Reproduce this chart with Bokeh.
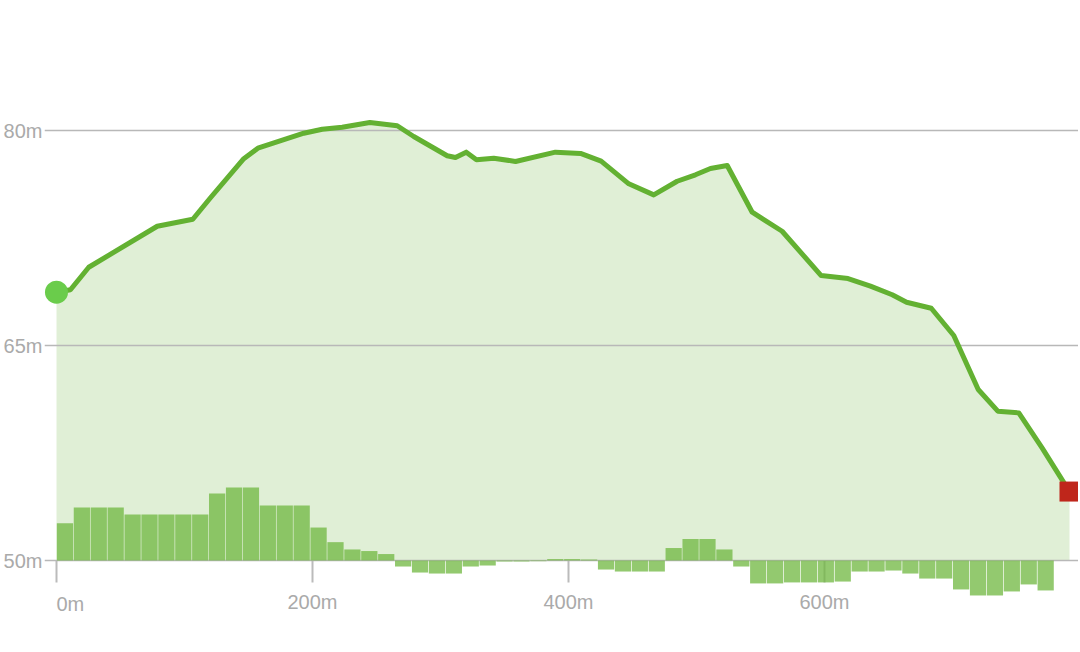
from bokeh.plotting import figure
from bokeh.models import Range1d, FixedTicker, PrintfTickFormatter, Label, ColumnDataSource
from bokeh.embed import file_html
from bokeh.resources import INLINE

# ---- data ----
dist_m = [0, 10.9, 25.2, 78.7, 106.5, 120.3, 146.3, 157.3, 193.2, 207.6,
          223.2, 244.8, 266.2, 279.1, 305.2, 311.7, 320.1, 328.1, 341.6, 358.6,
          389.8, 409.4, 425.5, 447.1, 466.6, 484.9, 499.2, 510.9, 524.0, 543.5,
          566.9, 597.4, 618.4, 635.9, 652.9, 664.1, 683.4, 701.0, 720.1, 735.4,
          751.8, 770.1, 791.4]
elev_m = [68.72, 68.89, 70.46, 73.32, 73.81, 75.31, 78.03, 78.77, 79.81, 80.09,
          80.23, 80.56, 80.33, 79.58, 78.24, 78.12, 78.49, 77.96, 78.07, 77.84,
          78.49, 78.40, 77.86, 76.28, 75.51, 76.46, 76.91, 77.35, 77.56, 74.30,
          72.97, 69.88, 69.67, 69.14, 68.54, 68.02, 67.60, 65.70, 61.93, 60.42,
          60.30, 57.84, 54.81]

segment_len_m = 13.21
grade_bar = [2.60, 3.70, 3.70, 3.70, 3.21, 3.21, 3.21, 3.21, 3.21, 4.67,
             5.09, 5.09, 3.84, 3.84, 3.84, 2.30, 1.28, 0.77, 0.66, 0.45,
             -0.42, -0.84, -0.91, -0.91, -0.42, -0.35, -0.07, -0.07, -0.05, 0.10,
             0.10, 0.07, -0.63, -0.77, -0.77, -0.77, 0.87, 1.50, 1.50, 0.77,
             -0.42, -1.60, -1.60, -1.53, -1.53, -1.53, -1.47, -0.77, -0.77, -0.70,
             -0.91, -1.26, -1.26, -2.02, -2.44, -2.44, -2.16, -1.67, -2.09]

baseline = 50
x_ticks = [0, 200, 400, 600]
y_ticks = [50, 65, 80]

# ---- figure ----
p = figure(width=1078, height=650, output_backend="svg", toolbar_location=None,
           x_range=Range1d(-9.375, 798.44), y_range=Range1d(43.721, 89.070),
           min_border_left=44, min_border_right=0, min_border_top=0, min_border_bottom=0,
           outline_line_color=None, background_fill_color="white", border_fill_color="white")

FONT = "Liberation Sans"
GREY = "#aaaaaa"

# area under the profile
area = p.varea(x=dist_m, y1=[baseline] * len(dist_m), y2=elev_m,
               fill_color="#63b032", fill_alpha=0.2)
area.level = "image"

# grade bars
centers = [(i + 0.5) * segment_len_m for i in range(len(grade_bar))]
bar_src = ColumnDataSource(dict(x=centers,
                                top=[baseline + g for g in grade_bar],
                                bottom=[baseline] * len(grade_bar)))
p.vbar(x="x", top="top", bottom="bottom", width=segment_len_m * 0.96, source=bar_src,
       fill_color="#6fb73f", fill_alpha=0.75, line_color=None)

# elevation line
p.line(dist_m, elev_m, line_color="#63b132", line_width=5, line_join="round", line_cap="round")

# start / end markers
p.scatter([dist_m[0]], [elev_m[0]], marker="circle", size=23,
          fill_color="#6acc4b", line_color=None)
p.scatter([dist_m[-1]], [elev_m[-1]], marker="square", size=20,
          fill_color="#bf261b", line_color=None)

# x axis drawn at the 50 m baseline
xa = p.xaxis[0]
xa.fixed_location = baseline
xa.ticker = FixedTicker(ticks=x_ticks)
xa.formatter = PrintfTickFormatter(format="%dm")
xa.major_label_overrides = {0: ""}
xa.axis_line_color = None
xa.major_tick_in = 0
xa.major_tick_out = 22
xa.major_tick_line_color = "#bbbbbb"
xa.major_tick_line_width = 2
xa.minor_tick_line_color = None
xa.major_label_standoff = 8
xa.major_label_text_font = FONT
xa.major_label_text_font_size = "20px"
xa.major_label_text_color = GREY
xa.level = "underlay"

# y axis in the left panel
ya = p.yaxis[0]
ya.ticker = FixedTicker(ticks=y_ticks)
ya.formatter = PrintfTickFormatter(format="%dm")
ya.axis_line_color = None
ya.major_tick_in = 0
ya.major_tick_out = 0
ya.minor_tick_line_color = None
ya.major_label_standoff = 2
ya.major_label_text_font = FONT
ya.major_label_text_font_size = "20px"
ya.major_label_text_color = GREY

p.xgrid.visible = False
p.ygrid.ticker = FixedTicker(ticks=y_ticks)
p.ygrid.grid_line_color = "#b8b8b8"
p.ygrid.grid_line_width = 1.5

# first x tick label is left-aligned at the origin
p.add_layout(Label(x=0, y=baseline, text="0m", text_align="left", text_baseline="middle",
                   y_offset=-43, text_font=FONT, text_font_size="20px", text_color=GREY))

open("out.html", "w").write(file_html(p, INLINE))
